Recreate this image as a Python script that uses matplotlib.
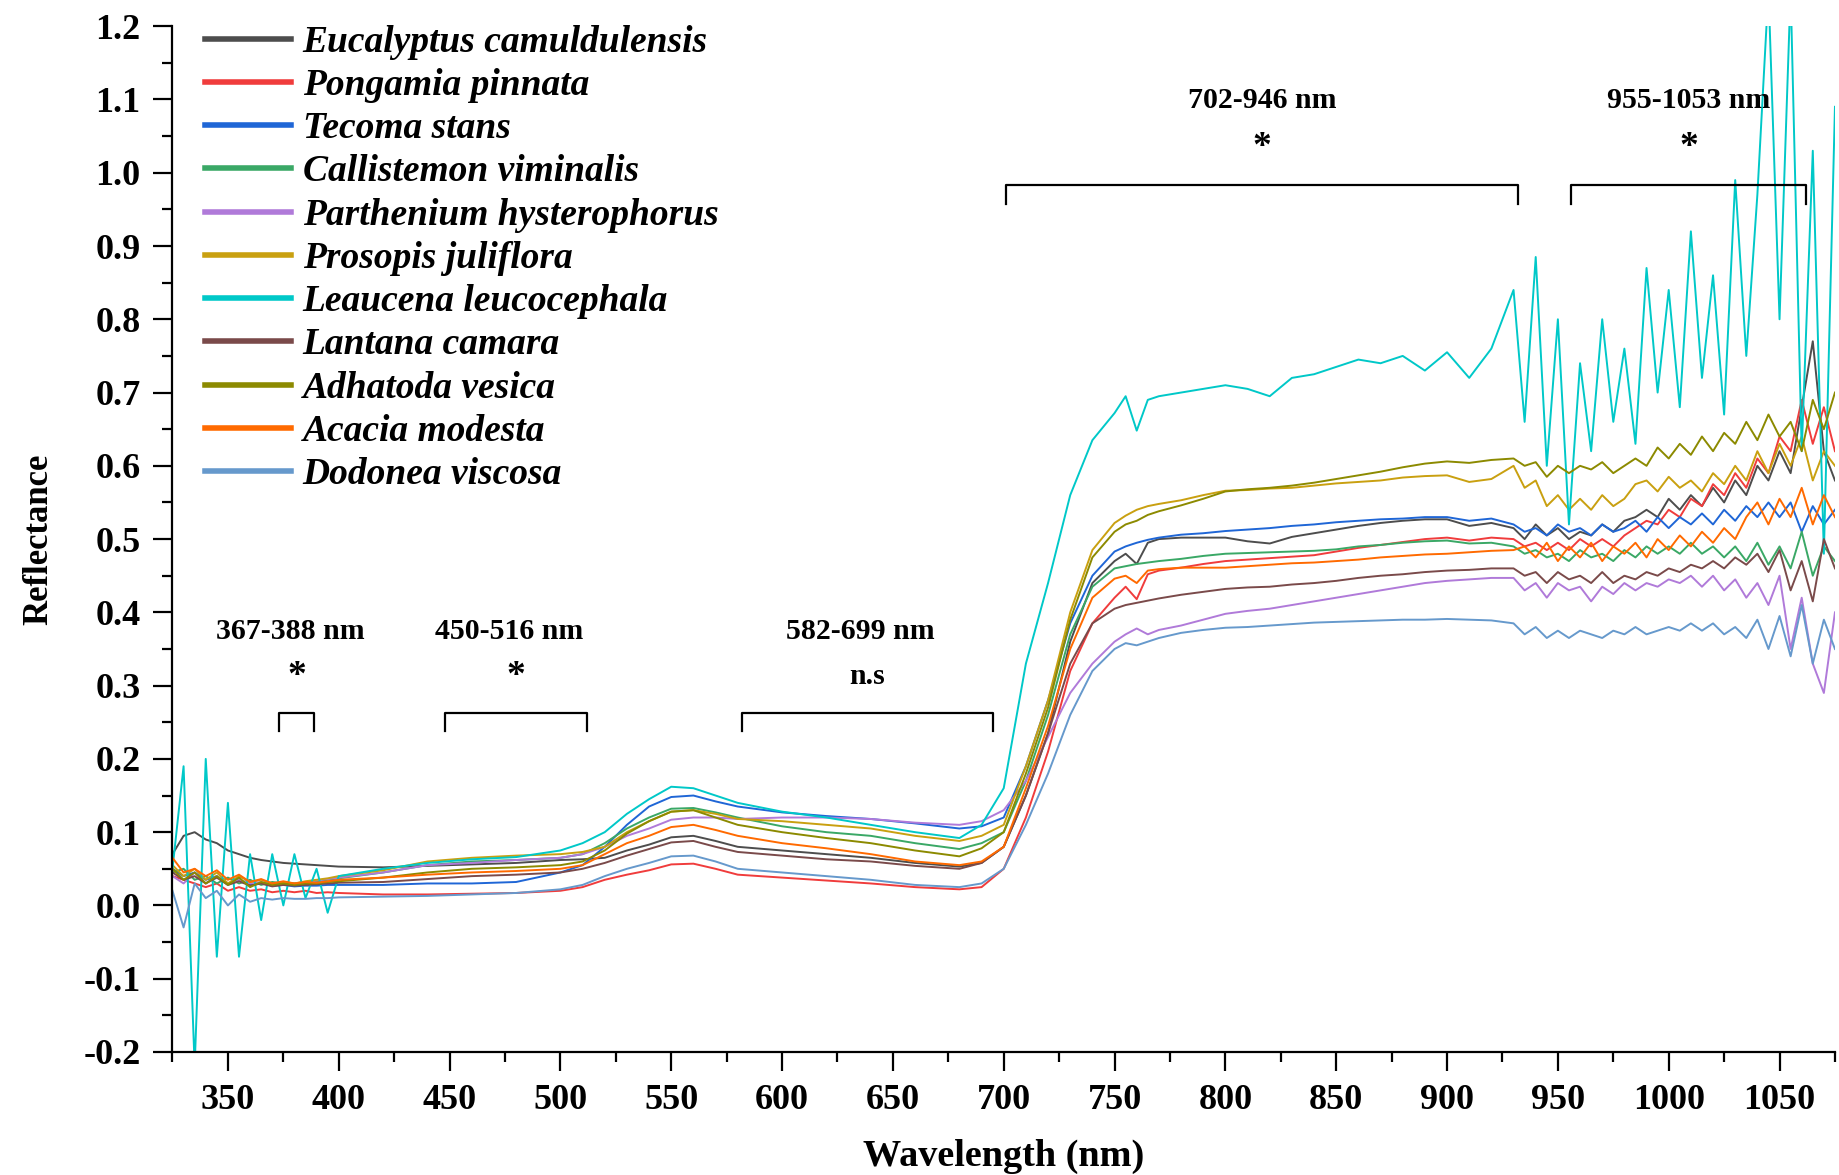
import matplotlib
matplotlib.use("Agg")
import matplotlib.pyplot as plt
from matplotlib.ticker import MultipleLocator

plt.rcParams['font.family'] = ['Liberation Serif', 'DejaVu Serif']
plt.rcParams['font.weight'] = 'bold'

wavelength = [325, 330, 335, 340, 345, 350, 355, 360, 365, 370, 375, 380, 385, 390, 395, 400,
              420, 440, 460, 480, 500, 510, 520, 530, 540, 550, 560, 570, 580, 600, 620, 640, 660, 680,
              690, 700, 710, 720, 730, 740, 750, 755, 760, 765, 770, 780,
              790, 800, 810, 820, 830, 840, 850, 860, 870, 880, 890, 900, 910, 920,
              930, 935, 940, 945, 950, 955, 960, 965, 970, 975, 980, 985, 990, 995, 1000,
              1005, 1010, 1015, 1020, 1025, 1030, 1035, 1040, 1045, 1050, 1055, 1060, 1065, 1070, 1075]

eucalyptus = [0.07, 0.095, 0.1, 0.09, 0.085, 0.075, 0.07, 0.065, 0.062, 0.06, 0.058, 0.057, 0.056, 0.055, 0.054, 0.053,
              0.052, 0.054, 0.056, 0.058, 0.062, 0.063, 0.065, 0.075, 0.083, 0.093, 0.095, 0.088, 0.08, 0.075, 0.07, 0.065, 0.058, 0.053,
              0.058, 0.08, 0.15, 0.235, 0.36, 0.44, 0.47, 0.48, 0.466, 0.495, 0.5, 0.502,
              0.502, 0.502, 0.497, 0.494, 0.503, 0.508, 0.513, 0.518, 0.522, 0.525, 0.527, 0.527, 0.518, 0.522,
              0.515, 0.5, 0.52, 0.505, 0.515, 0.5, 0.51, 0.505, 0.52, 0.51, 0.525, 0.53, 0.54, 0.53, 0.555,
              0.54, 0.56, 0.545, 0.57, 0.55, 0.58, 0.56, 0.6, 0.58, 0.62, 0.59, 0.68, 0.77, 0.62, 0.58]
pongamia = [0.04, 0.035, 0.03, 0.025, 0.03, 0.02, 0.025, 0.02, 0.022, 0.018, 0.02, 0.018, 0.02, 0.017, 0.018, 0.017,
            0.015, 0.015, 0.016, 0.017, 0.02, 0.025, 0.035, 0.042, 0.048, 0.056, 0.057, 0.05, 0.042, 0.038, 0.034, 0.03, 0.025, 0.022,
            0.025, 0.05, 0.12, 0.21, 0.32, 0.385, 0.42, 0.435, 0.418, 0.452, 0.457, 0.461,
            0.466, 0.47, 0.472, 0.474, 0.476, 0.478, 0.483, 0.488, 0.492, 0.496, 0.5, 0.502, 0.498, 0.502,
            0.5, 0.49, 0.495, 0.485, 0.495, 0.485, 0.5, 0.49, 0.5, 0.49, 0.505, 0.515, 0.525, 0.52, 0.54,
            0.53, 0.555, 0.545, 0.575, 0.56, 0.59, 0.57, 0.61, 0.59, 0.64, 0.62, 0.69, 0.63, 0.68, 0.62]
tecoma = [0.05, 0.04, 0.045, 0.035, 0.04, 0.03, 0.035, 0.028, 0.03, 0.027, 0.028, 0.026, 0.027, 0.027, 0.028, 0.028,
          0.028, 0.03, 0.03, 0.032, 0.045, 0.055, 0.08, 0.11, 0.135, 0.148, 0.15, 0.142, 0.135, 0.127, 0.122, 0.118, 0.112, 0.105,
          0.108, 0.12, 0.19, 0.28, 0.385, 0.45, 0.483, 0.49, 0.495, 0.499, 0.502, 0.506,
          0.508, 0.511, 0.513, 0.515, 0.518, 0.52, 0.523, 0.525, 0.527, 0.528, 0.53, 0.53, 0.525, 0.528,
          0.52, 0.51, 0.515, 0.505, 0.52, 0.51, 0.515, 0.505, 0.52, 0.51, 0.515, 0.525, 0.51, 0.53, 0.515,
          0.53, 0.52, 0.535, 0.52, 0.54, 0.525, 0.545, 0.53, 0.55, 0.53, 0.55, 0.51, 0.545, 0.52, 0.54]
callistemon = [0.045, 0.05, 0.035, 0.04, 0.03, 0.038, 0.03, 0.035, 0.028, 0.032, 0.03, 0.03, 0.031, 0.033, 0.035, 0.037,
               0.045, 0.055, 0.06, 0.062, 0.065, 0.07, 0.085, 0.105, 0.12, 0.132, 0.133, 0.127, 0.12, 0.108, 0.1, 0.095, 0.085, 0.077,
               0.085, 0.1, 0.17, 0.26, 0.37, 0.435, 0.46, 0.463, 0.466, 0.468, 0.47, 0.473,
               0.477, 0.48, 0.481, 0.482, 0.483, 0.484, 0.486, 0.49, 0.492, 0.495, 0.497, 0.498, 0.494, 0.495,
               0.49, 0.48, 0.485, 0.475, 0.48, 0.47, 0.485, 0.475, 0.48, 0.47, 0.485, 0.475, 0.49, 0.48, 0.49,
               0.48, 0.495, 0.48, 0.49, 0.475, 0.49, 0.47, 0.495, 0.465, 0.49, 0.46, 0.51, 0.45, 0.49, 0.47]
parthenium = [0.04, 0.03, 0.045, 0.03, 0.04, 0.028, 0.035, 0.03, 0.032, 0.028, 0.03, 0.03, 0.032, 0.034, 0.036, 0.038,
              0.045, 0.055, 0.058, 0.062, 0.065, 0.07, 0.08, 0.095, 0.105, 0.117, 0.12, 0.12, 0.118, 0.12, 0.12, 0.118, 0.113, 0.11,
              0.115, 0.13, 0.17, 0.23, 0.29, 0.33, 0.36, 0.37, 0.378, 0.37, 0.376, 0.382,
              0.39, 0.398, 0.402, 0.405, 0.41, 0.415, 0.42, 0.425, 0.43, 0.435, 0.44, 0.443, 0.445, 0.447,
              0.447, 0.43, 0.44, 0.42, 0.44, 0.43, 0.435, 0.415, 0.435, 0.425, 0.44, 0.43, 0.44, 0.435, 0.445,
              0.44, 0.45, 0.435, 0.45, 0.43, 0.445, 0.42, 0.44, 0.41, 0.45, 0.35, 0.42, 0.33, 0.29, 0.4]
prosopis = [0.055, 0.04, 0.05, 0.035, 0.045, 0.03, 0.04, 0.032, 0.035, 0.03, 0.032, 0.03, 0.033, 0.035, 0.037, 0.04,
            0.048, 0.06, 0.065, 0.068, 0.07, 0.073, 0.08, 0.1, 0.115, 0.128, 0.13, 0.125, 0.118, 0.115, 0.11, 0.105, 0.095, 0.088,
            0.095, 0.11, 0.19, 0.28, 0.4, 0.485, 0.522, 0.532, 0.54, 0.545, 0.548, 0.553,
            0.56, 0.566, 0.567, 0.569, 0.57, 0.573, 0.576, 0.578, 0.58, 0.584, 0.586, 0.587, 0.578, 0.582,
            0.6, 0.57, 0.58, 0.545, 0.56, 0.54, 0.555, 0.54, 0.56, 0.545, 0.555, 0.575, 0.58, 0.565, 0.585,
            0.57, 0.58, 0.565, 0.59, 0.575, 0.6, 0.58, 0.62, 0.59, 0.63, 0.6, 0.64, 0.58, 0.62, 0.6]
leucaena = [0.05, 0.19, -0.22, 0.2, -0.07, 0.14, -0.07, 0.07, -0.02, 0.07, 0.0, 0.07, 0.01, 0.05, -0.01, 0.04,
            0.05, 0.058, 0.063, 0.066, 0.075, 0.085, 0.1, 0.125, 0.145, 0.162, 0.16, 0.15, 0.14, 0.128, 0.12, 0.11, 0.1, 0.092,
            0.11, 0.16, 0.33, 0.44, 0.56, 0.635, 0.672, 0.695, 0.648, 0.69, 0.695, 0.7,
            0.705, 0.71, 0.705, 0.695, 0.72, 0.725, 0.735, 0.745, 0.74, 0.75, 0.73, 0.755, 0.72, 0.76,
            0.84, 0.66, 0.885, 0.6, 0.8, 0.52, 0.74, 0.62, 0.8, 0.66, 0.76, 0.63, 0.87, 0.7, 0.84,
            0.68, 0.92, 0.72, 0.86, 0.67, 0.99, 0.75, 0.97, 1.25, 0.8, 1.25, 0.62, 1.03, 0.48, 1.09]
lantana = [0.045, 0.035, 0.04, 0.03, 0.038, 0.028, 0.033, 0.027, 0.03, 0.026, 0.028, 0.027, 0.028, 0.029, 0.03, 0.031,
           0.032, 0.036, 0.04, 0.042, 0.045, 0.05, 0.058, 0.068, 0.077, 0.086, 0.088, 0.08, 0.073, 0.068, 0.063, 0.06, 0.054, 0.05,
           0.058, 0.08, 0.15, 0.235, 0.33, 0.385, 0.405, 0.41, 0.413, 0.416, 0.419, 0.424,
           0.428, 0.432, 0.434, 0.435, 0.438, 0.44, 0.443, 0.447, 0.45, 0.452, 0.455, 0.457, 0.458, 0.46,
           0.46, 0.45, 0.455, 0.44, 0.455, 0.445, 0.45, 0.44, 0.455, 0.44, 0.45, 0.445, 0.455, 0.45, 0.46,
           0.455, 0.465, 0.46, 0.47, 0.46, 0.475, 0.465, 0.48, 0.455, 0.485, 0.43, 0.47, 0.415, 0.5, 0.46]
adhatoda = [0.05, 0.035, 0.045, 0.03, 0.04, 0.028, 0.038, 0.025, 0.032, 0.028, 0.03, 0.028, 0.03, 0.03, 0.032, 0.033,
            0.038, 0.045, 0.05, 0.052, 0.055, 0.06, 0.075, 0.098, 0.115, 0.128, 0.13, 0.12, 0.11, 0.1, 0.092, 0.085, 0.075, 0.067,
            0.078, 0.1, 0.18, 0.27, 0.39, 0.475, 0.51, 0.52, 0.525, 0.533, 0.538, 0.546,
            0.555, 0.565, 0.568, 0.57, 0.573, 0.577, 0.582, 0.587, 0.592, 0.598, 0.603, 0.606, 0.604, 0.608,
            0.61, 0.6, 0.605, 0.585, 0.6, 0.59, 0.6, 0.595, 0.605, 0.59, 0.6, 0.61, 0.6, 0.625, 0.61,
            0.63, 0.615, 0.64, 0.62, 0.645, 0.63, 0.66, 0.635, 0.67, 0.64, 0.66, 0.62, 0.69, 0.65, 0.7]
acacia = [0.065, 0.045, 0.05, 0.04, 0.048, 0.035, 0.042, 0.032, 0.036, 0.03, 0.033, 0.03, 0.032, 0.031, 0.033, 0.035,
          0.038, 0.042, 0.045, 0.047, 0.05, 0.055, 0.07, 0.085, 0.095, 0.107, 0.11, 0.103, 0.095, 0.085, 0.078, 0.07, 0.06, 0.055,
          0.06, 0.08, 0.16, 0.245, 0.35, 0.42, 0.446, 0.45, 0.44, 0.457, 0.459, 0.461,
          0.461, 0.461, 0.463, 0.465, 0.467, 0.468, 0.47, 0.472, 0.475, 0.477, 0.479, 0.48, 0.482, 0.484,
          0.485, 0.49, 0.475, 0.495, 0.47, 0.49, 0.475, 0.495, 0.47, 0.49, 0.48, 0.495, 0.475, 0.5, 0.485,
          0.505, 0.49, 0.51, 0.495, 0.515, 0.5, 0.53, 0.55, 0.52, 0.555, 0.53, 0.57, 0.52, 0.56, 0.53]
dodonea = [0.02, -0.03, 0.03, 0.01, 0.02, 0.0, 0.015, 0.005, 0.01, 0.008, 0.01, 0.009, 0.009, 0.01, 0.01, 0.011,
           0.012, 0.013, 0.015, 0.017, 0.022, 0.028, 0.04, 0.05, 0.058, 0.067, 0.068, 0.06, 0.05, 0.045, 0.04, 0.035, 0.028, 0.025,
           0.03, 0.05, 0.11, 0.18, 0.26, 0.32, 0.35, 0.358, 0.355, 0.36, 0.365, 0.372,
           0.376, 0.379, 0.38, 0.382, 0.384, 0.386, 0.387, 0.388, 0.389, 0.39, 0.39, 0.391, 0.39, 0.389,
           0.385, 0.37, 0.38, 0.365, 0.375, 0.365, 0.375, 0.37, 0.365, 0.375, 0.37, 0.38, 0.37, 0.375, 0.38,
           0.375, 0.385, 0.375, 0.385, 0.37, 0.38, 0.365, 0.39, 0.35, 0.395, 0.34, 0.41, 0.33, 0.39, 0.35]

species = ['Eucalyptus camuldulensis', 'Pongamia pinnata', 'Tecoma stans', 'Callistemon viminalis',
           'Parthenium hysterophorus', 'Prosopis juliflora', 'Leaucena leucocephala', 'Lantana camara',
           'Adhatoda vesica', 'Acacia modesta', 'Dodonea viscosa']
spectra = [eucalyptus, pongamia, tecoma, callistemon, parthenium, prosopis,
           leucaena, lantana, adhatoda, acacia, dodonea]
colors = ['#4d4d4d', '#f03c3c', '#1f66d6', '#3aa866', '#b07ad9', '#c9a010',
          '#00c8c8', '#7a4a4a', '#8c8a00', '#ff6a00', '#6699cc']

# significance brackets: (start nm, end nm, range text, mark)
band_start = [373, 448, 582, 701, 956]
band_end = [389, 512, 695, 932, 1062]
band_text = ['367-388 nm', '450-516 nm', '582-699 nm', '702-946 nm', '955-1053 nm']
band_mark = ['*', '*', 'n.s', '*', '*']

fig = plt.figure(figsize=(18.39, 11.75), dpi=100)
ax = fig.add_axes([0.0938, 0.1047, 0.904, 0.873])

for name, vals, c in zip(species, spectra, colors):
    ax.plot(wavelength, vals, color=c, lw=1.4, label=name)

# brackets with labels
for i in range(len(band_start)):
    x0, x1 = band_start[i], band_end[i]
    xc = (x0 + x1) / 2
    if x0 > 700:
        top, leg, ytxt, ymark, dx = 0.983, 0.958, 1.098, 1.035, 0
    else:
        top, leg, ytxt, ymark, dx = 0.262, 0.238, 0.374, 0.312, -3
    ax.plot([x0, x0, x1, x1], [leg, top, top, leg], color='black', lw=1.6)
    ax.text(xc + dx, ytxt, band_text[i], ha='center', va='center', fontsize=21.5, fontweight='bold')
    if band_mark[i] == '*':
        ax.text(xc, ymark, '*', ha='center', va='center', fontsize=27, fontweight='bold')
    else:
        ax.text(xc, ymark, band_mark[i], ha='center', va='center', fontsize=21.5, fontweight='bold')

ax.set_xlim(325, 1075)
ax.set_ylim(-0.2, 1.2)
ax.xaxis.set_major_locator(MultipleLocator(50))
ax.xaxis.set_minor_locator(MultipleLocator(25))
ax.yaxis.set_major_locator(MultipleLocator(0.1))
ax.yaxis.set_minor_locator(MultipleLocator(0.05))
ax.set_xticks(range(350, 1051, 50))
ax.yaxis.set_major_formatter(plt.FuncFormatter(lambda v, p: '%.1f' % v))

for s in ['top', 'right']:
    ax.spines[s].set_visible(False)
for s in ['left', 'bottom']:
    ax.spines[s].set_linewidth(1.6)
ax.tick_params(which='major', direction='out', length=14, width=1.6, labelsize=26, pad=9)
ax.tick_params(which='minor', direction='out', length=7, width=1.6)

ax.set_xlabel('Wavelength (nm)', fontsize=27.5, fontweight='bold', labelpad=16)
ax.set_ylabel('Reflectance', fontsize=25, fontweight='bold', labelpad=20)

leg = ax.legend(loc='upper left', bbox_to_anchor=(0.1115, 0.979), bbox_transform=fig.transFigure,
                frameon=False, borderaxespad=0, borderpad=0, handlelength=2.3, handletextpad=0.3,
                labelspacing=0.22, prop={'family': 'Liberation Serif', 'weight': 'bold',
                                         'style': 'italic', 'size': 27})
for h in leg.legend_handles:
    h.set_linewidth(4)

fig.savefig('out.png', dpi=100)
